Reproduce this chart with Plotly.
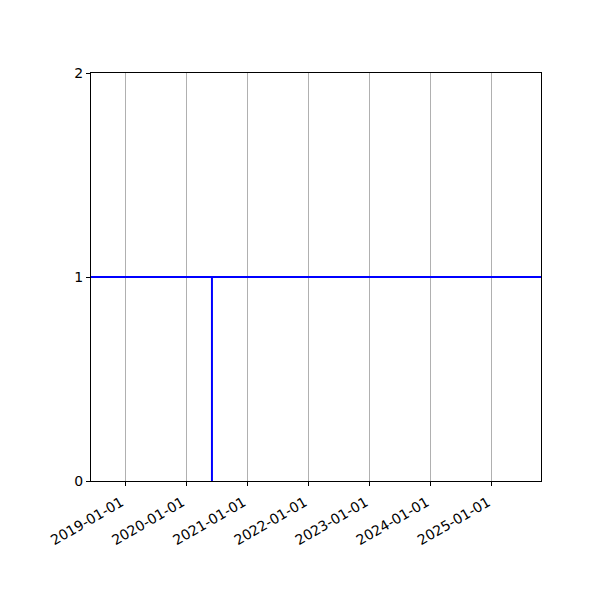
import plotly.graph_objects as go

# axis extent
x_range = ["2018-06-10", "2025-10-21"]
y_ticks = [0, 1, 2]
year_ticks = ["2019-01-01", "2020-01-01", "2021-01-01", "2022-01-01",
              "2023-01-01", "2024-01-01", "2025-01-01"]

# horizontal level and the single vertical marker
level = 1
event_date = "2020-06-02"
event_y = [0, 1]

fig = go.Figure()
fig.add_trace(go.Scatter(x=x_range, y=[level, level], mode="lines",
                         line=dict(color="blue", width=2), showlegend=False))
fig.add_trace(go.Scatter(x=[event_date, event_date], y=event_y, mode="lines",
                         line=dict(color="blue", width=2), showlegend=False))

axis_common = dict(showline=True, linecolor="black", linewidth=1, mirror=True,
                   ticks="outside", ticklen=4, tickcolor="black", zeroline=False,
                   tickfont=dict(family="DejaVu Sans", size=14, color="black"))

fig.update_xaxes(range=x_range, type="date", tickvals=year_ticks, ticktext=year_ticks,
                 tickangle=-30, showgrid=True, gridcolor="#b0b0b0", gridwidth=1,
                 ticklabelshift=-4, ticklabelstandoff=3,
                 **axis_common)
fig.update_yaxes(range=[0, 2], tickvals=y_ticks, showgrid=False, **axis_common)

# page body adds ~7px offset, so margins are shifted to land the axes at 90..540 / 72..480
fig.update_layout(width=600, height=600, plot_bgcolor="white", paper_bgcolor="white",
                  margin=dict(l=83, r=67, t=65, b=127))

fig.write_html("out.html")
